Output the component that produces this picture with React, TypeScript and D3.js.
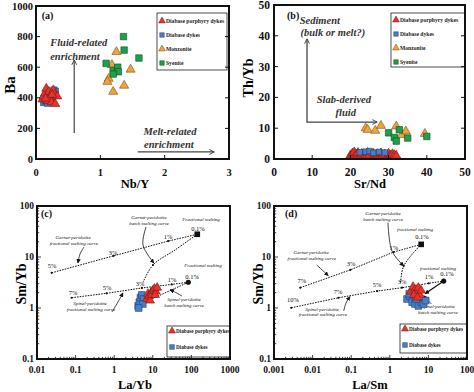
import React from 'react';
import * as d3 from 'd3';

type Pt = [number, number];

// ---------- Panel (a): Ba vs Nb/Y ----------
const aXTicks = [0, 1, 2, 3];
const aYTicks = [0, 200, 400, 600, 800, 1000];
const aPorphyry: Pt[] = [[0.1, 390], [0.12, 410], [0.14, 430], [0.16, 460], [0.18, 380], [0.2, 440], [0.22, 400], [0.24, 370], [0.27, 450], [0.29, 420], [0.3, 360], [0.33, 410], [0.15, 395], [0.25, 420]];
const aDyke: Pt[] = [[0.12, 370], [0.15, 380], [0.2, 410], [0.28, 450], [0.3, 440], [0.25, 395], [0.18, 365]];
const aMonzonite: Pt[] = [[1.25, 700], [1.18, 615], [1.13, 525], [1.11, 505], [1.2, 440], [1.37, 480], [1.47, 585]];
const aSyenite: Pt[] = [[1.36, 800], [1.37, 712], [1.09, 625], [1.6, 660], [1.2, 580], [1.27, 600], [1.28, 570], [1.2, 555]];

// ---------- Panel (b): Th/Yb vs Sr/Nd ----------
const bXTicks = [0, 10, 20, 30, 40, 50];
const bYTicks = [0, 10, 20, 30, 40, 50];
const bPorphyry: Pt[] = [[20, 1.2], [20.5, 1.8], [21, 2.2], [21.5, 1.5], [22, 2], [22.5, 1.2], [23, 1.7], [24, 1.4], [24.5, 2], [25, 1.2], [26, 1.8], [26.5, 1.3], [27, 1.6], [28, 1.9], [28.5, 1.2], [29, 1.5], [30, 1.8], [30.5, 1.2], [31, 1.6], [31.5, 1.3], [32, 1.1]];
const bDyke: Pt[] = [[22.5, 2.2], [24, 2.4], [25, 2.6], [26, 2], [27.5, 2.3], [29, 2.1]];
const bMonzonite: Pt[] = [[24, 10], [24.5, 9.5], [26.5, 9.2], [28, 10.8], [32, 10.6], [33.5, 7.8], [34.5, 9], [39.5, 8.2]];
const bSyenite: Pt[] = [[30, 8.5], [31.5, 7], [32, 5.8], [32.8, 9.5], [35, 6.8], [40, 7.3]];

// ---------- Panel (c): Sm/Yb vs La/Yb ----------
const cXTicks = [0.01, 0.1, 1, 10, 100, 1000];
const cYTicks = [0.1, 1, 10, 100];
const cPorphyry: Pt[] = [[7, 1.5], [7.5, 1.9], [8, 1.7], [8.5, 1.4], [9, 2.0], [9.5, 1.8], [10, 2.2], [11, 2.4], [12, 2.1], [13, 2.5], [11.5, 1.8]];
const cDyke: Pt[] = [[4.2, 1.1], [4.5, 1.3], [4.8, 1.6], [5.2, 1.8], [5.8, 1.5], [5.5, 1.2], [4.3, 1.0]];
const cGarnetFrac: Pt[] = [[0.024, 4.9], [0.95, 10.5], [25, 20.5], [142, 27.9]];
const cSpinelFrac: Pt[] = [[0.079, 1.59], [0.64, 1.94], [5.2, 2.47], [31, 2.9], [83, 3.2]];
const cGarnetBatch: Pt[] = [[142, 27.9], [37.6, 13.7], [10.1, 6.97], [5.6, 3.2]];
const cSpinelBatch: Pt[] = [[83, 3.2], [12.6, 1.66]];

// ---------- Panel (d): Sm/Yb vs La/Sm ----------
const dXTicks = [0.001, 0.01, 0.1, 1, 10, 100];
const dYTicks = [0.1, 1, 10, 100];
const dPorphyry: Pt[] = [[3.5, 2.1], [4, 2.6], [4.5, 2.3], [5, 2.0], [5.5, 2.5], [6, 1.8], [4.2, 1.8], [6.5, 2.2], [5.2, 1.6]];
const dDyke: Pt[] = [[2.8, 1.5], [3.3, 1.7], [3.8, 1.3], [4.5, 1.2], [5.5, 1.1], [6.5, 1.3], [7.5, 1.2], [3.2, 1.9], [4.8, 1.5], [8.5, 1.4]];
const dGarnetFrac: Pt[] = [[0.0048, 2.5], [0.095, 5.6], [1.26, 12.5], [6.5, 17.7]];
const dSpinelFrac: Pt[] = [[0.0028, 1.01], [0.047, 1.59], [0.47, 2.15], [2.07, 2.5], [10.2, 3.05], [24.9, 3.38]];
const dGarnetBatch: Pt[] = [[6.5, 17.7], [2.3, 6.7], [1.9, 3.1]];
const dSpinelBatch: Pt[] = [[24.9, 3.38], [8.2, 1.9]];

const FONT = "'Liberation Serif', 'Times New Roman', serif";
const STYLE: Record<string, { fill: string; stroke: string; tri: boolean }> = {
  porphyry: { fill: '#e5332f', stroke: '#7a1512', tri: true },
  dyke: { fill: '#4a7fc6', stroke: '#1f3f78', tri: false },
  monz: { fill: '#f2a23a', stroke: '#7a4d10', tri: true },
  syen: { fill: '#1f9e4b', stroke: '#0b5224', tri: false },
};
const LABELS: Record<string, string> = {
  porphyry: 'Diabase porphyry dykes',
  dyke: 'Diabase dykes',
  monz: 'Monzonite',
  syen: 'Syenite',
};

function symPath(tri: boolean, size: number) {
  return d3.symbol().type(tri ? d3.symbolTriangle : d3.symbolSquare).size(size)() as string;
}

function Marks({ pts, kind, xs, ys, size }: any) {
  const st = STYLE[kind];
  const p = symPath(st.tri, size ?? (st.tri ? 36 : 42));
  return (
    <g>
      {pts.map((d: Pt, i: number) => (
        <path key={i} d={p} transform={`translate(${xs(d[0])},${ys(d[1])})`} fill={st.fill} stroke={st.stroke} strokeWidth={0.6} />
      ))}
    </g>
  );
}

function Legend({ x, y, w, h, kinds, rows, fs, sym }: any) {
  return (
    <g>
      <rect x={x} y={y} width={w} height={h} fill="#fff" stroke="#222" strokeWidth={0.8} />
      {kinds.map((k: string, i: number) => {
        const st = STYLE[k];
        return (
          <g key={k}>
            <path d={symPath(st.tri, sym)} transform={`translate(${x + 5},${rows[i]})`} fill={st.fill} stroke={st.stroke} strokeWidth={0.5} />
            <text x={x + 9} y={rows[i]} dominantBaseline="central" fontSize={fs} fontFamily={FONT} fontWeight="bold" fill="#222">{LABELS[k]}</text>
          </g>
        );
      })}
    </g>
  );
}

function Axes({ xs, ys, xTicks, yTicks, log, fs, xLabY, yLabX, fmt }: any) {
  const [x0, x1] = xs.range();
  const [y0, y1] = ys.range();
  const items: any[] = [];
  if (log) {
    const xt = xs.ticks();
    xt.forEach((v: number, i: number) => {
      const major = Math.abs(Math.log10(v) - Math.round(Math.log10(v))) < 1e-6;
      const L = major ? 4 : 2.2;
      items.push(<line key={'xt' + i} x1={xs(v)} x2={xs(v)} y1={y0} y2={y0 - L} stroke="#111" strokeWidth={0.8} />);
    });
    const yt = ys.ticks();
    yt.forEach((v: number, i: number) => {
      const major = Math.abs(Math.log10(v) - Math.round(Math.log10(v))) < 1e-6;
      const L = major ? 4 : 2.2;
      items.push(<line key={'yt' + i} x1={x0} x2={x0 + L} y1={ys(v)} y2={ys(v)} stroke="#111" strokeWidth={0.8} />);
    });
  } else {
    xTicks.forEach((v: number, i: number) => {
      items.push(<line key={'xt' + i} x1={xs(v)} x2={xs(v)} y1={y0} y2={y0 - 4} stroke="#111" strokeWidth={1} />);
    });
    yTicks.forEach((v: number, i: number) => {
      items.push(<line key={'yl' + i} x1={x0} x2={x0 + 4} y1={ys(v)} y2={ys(v)} stroke="#111" strokeWidth={1} />);
      items.push(<line key={'yr' + i} x1={x1} x2={x1 - 4} y1={ys(v)} y2={ys(v)} stroke="#111" strokeWidth={1} />);
    });
  }
  return (
    <g>
      {items}
      {xTicks.map((v: number, i: number) => (
        <text key={'xl' + i} x={xs(v)} y={xLabY} textAnchor="middle" fontSize={fs} fontFamily={FONT} fontWeight="bold" fill="#111">{fmt ? fmt(v) : String(v)}</text>
      ))}
      {yTicks.map((v: number, i: number) => (
        <text key={'ylb' + i} x={yLabX} y={ys(v)} textAnchor="end" dominantBaseline="central" fontSize={fs} fontFamily={FONT} fontWeight="bold" fill="#111">{String(v)}</text>
      ))}
      <rect x={x0} y={y1} width={x1 - x0} height={y0 - y1} fill="none" stroke="#111" strokeWidth={2} />
    </g>
  );
}

function Notes({ notes, xs, ys }: any) {
  return (
    <g>
      {notes.map((n: any, i: number) => (
        <text key={i} x={xs(n.x)} y={ys(n.y)} textAnchor={n.a ?? 'middle'} dominantBaseline="central"
          fontSize={n.s} fontFamily={FONT} fontStyle={n.it ? 'italic' : 'normal'} fontWeight={n.b ? 'bold' : 'normal'} fill={n.c ?? '#111'}>{n.t}</text>
      ))}
    </g>
  );
}

function Curve({ pts, xs, ys, dash, width, smooth, marker, color }: any) {
  const line = d3.line<Pt>().x((d) => xs(d[0])).y((d) => ys(d[1])).curve(smooth ? d3.curveCatmullRom : d3.curveLinear);
  return <path d={line(pts) as string} fill="none" stroke={color ?? '#111'} strokeWidth={width ?? 1} strokeDasharray={dash} markerEnd={marker} />;
}

function Dots({ pts, xs, ys, r }: any) {
  return <g>{pts.map((d: Pt, i: number) => <circle key={i} cx={xs(d[0])} cy={ys(d[1])} r={r ?? 1.1} fill="#111" />)}</g>;
}

// annotation lists (positions in data units)
const cNotes = [
  { t: '(c)', x: 0.0127, y: 70, s: 10, b: true, a: 'start' },
  { t: 'Garnet-peridotite', x: 0.086, y: 23.6, s: 5, it: true },
  { t: 'fractional melting curve', x: 0.09, y: 18.0, s: 5, it: true },
  { t: '5%', x: 0.0245, y: 6.67, s: 6.5 },
  { t: '3%', x: 0.93, y: 12.5, s: 6.5 },
  { t: '1%', x: 24.8, y: 25.8, s: 6.5 },
  { t: 'Garnet-peridotite', x: 7.97, y: 58.2, s: 5, it: true },
  { t: 'batch melting curve', x: 7.97, y: 44.4, s: 5, it: true },
  { t: 'Fractional melting', x: 177, y: 55.6, s: 5, it: true },
  { t: '0.1%', x: 148, y: 37, s: 6.5 },
  { t: 'Fractional melting', x: 200, y: 6.67, s: 5, it: true },
  { t: '0.1%', x: 104, y: 4.24, s: 6.5 },
  { t: '7%', x: 0.086, y: 1.97, s: 6.5 },
  { t: '5%', x: 0.65, y: 2.47, s: 6.5 },
  { t: '3%', x: 4.66, y: 2.96, s: 6.5 },
  { t: '1%', x: 31.4, y: 3.7, s: 6.5 },
  { t: 'Spinel-peridotite', x: 0.236, y: 1.2, s: 5, it: true },
  { t: 'fractional melting curve', x: 0.25, y: 0.915, s: 5, it: true },
  { t: 'Spinel-peridotite', x: 64.3, y: 1.44, s: 5, it: true },
  { t: 'batch melting curve', x: 64.3, y: 1.1, s: 5, it: true },
];
const cArrows: Pt[][] = [
  [[0.165, 15.7], [0.13, 11.4], [0.115, 7.6]],
  [[6.67, 38.7], [5.57, 17.2], [10.7, 7.6]],
  [[0.877, 0.835], [1.25, 1.31], [1.69, 1.97]],
  [[57, 1.72], [40, 2.0], [27.9, 2.3]],
];

const dNotes = [
  { t: '(d)', x: 0.00193, y: 70, s: 10, b: true, a: 'start' },
  { t: 'Garnet-peridotite', x: 0.667, y: 72.9, s: 5, it: true },
  { t: 'batch melting curve', x: 0.667, y: 55.6, s: 5, it: true },
  { t: 'fractional melting', x: 4.5, y: 35.4, s: 5, it: true },
  { t: '0.1%', x: 6.82, y: 25.8, s: 6.5 },
  { t: 'Garnet-peridotite', x: 0.0091, y: 12.5, s: 5, it: true },
  { t: 'fractional melting curve', x: 0.0095, y: 9.5, s: 5, it: true },
  { t: '7%', x: 0.0053, y: 3.54, s: 6.5 },
  { t: '3%', x: 0.099, y: 7.6, s: 6.5 },
  { t: '1%', x: 1.28, y: 15.7, s: 6.5 },
  { t: 'fractional melting', x: 17.7, y: 6.08, s: 5, it: true },
  { t: '0.1%', x: 30.3, y: 4.85, s: 6.5 },
  { t: '10%', x: 0.0031, y: 1.5, s: 6.5 },
  { t: '7%', x: 0.0455, y: 2.15, s: 6.5 },
  { t: '5%', x: 0.466, y: 2.83, s: 6.5 },
  { t: '3%', x: 2.07, y: 3.24, s: 6.5 },
  { t: '1%', x: 10.4, y: 4.06, s: 6.5 },
  { t: 'Spinel-peridotite', x: 0.0175, y: 0.955, s: 5, it: true },
  { t: 'fractional melting curve', x: 0.0185, y: 0.73, s: 5, it: true },
  { t: 'Spinel-peridotite', x: 17.7, y: 1.09, s: 5, it: true },
  { t: 'batch melting curve', x: 17.7, y: 0.8, s: 5, it: true },
];
const dArrows: Pt[][] = [
  [[0.897, 47.1], [1.14, 13.1], [2.29, 6.67]],
  [[0.0128, 6.96], [0.018, 5.5], [0.0255, 4.3]],
  [[0.064, 0.873], [0.0733, 1.25], [0.093, 1.68]],
  [[12, 1.2], [9, 1.5], [7.6, 1.75]],
];

const aNotes = [
  { t: '(a)', x: 0.09, y: 935, s: 10, b: true, a: 'start' },
  { t: 'Fluid-related', x: 0.22, y: 760, s: 10.5, b: true, it: true, a: 'start', c: '#333' },
  { t: 'enrichment', x: 0.22, y: 672, s: 10.5, b: true, it: true, a: 'start', c: '#333' },
  { t: 'Melt-related', x: 1.67, y: 182, s: 10.5, b: true, it: true, a: 'start', c: '#333' },
  { t: 'enrichment', x: 1.68, y: 97, s: 10.5, b: true, it: true, a: 'start', c: '#333' },
];
const aArrows: Pt[][] = [
  [[0.594, 170], [0.594, 647]],
  [[1.58, 46], [2.77, 46]],
];

const bNotes = [
  { t: '(b)', x: 3.4, y: 46.6, s: 10, b: true, a: 'start' },
  { t: 'Sediment', x: 12, y: 45, s: 10.5, b: true, it: true, c: '#333' },
  { t: '(bulk or melt?)', x: 15.4, y: 41, s: 10.5, b: true, it: true, c: '#333' },
  { t: 'Slab-derived', x: 18.3, y: 19.2, s: 10.5, b: true, it: true, c: '#333' },
  { t: 'fluid', x: 18.8, y: 15, s: 10.5, b: true, it: true, c: '#333' },
];
const bArrow: Pt[] = [[8.64, 39], [8.64, 12], [27, 12]];

export default function App() {
  const axA = d3.scaleLinear().domain([0, 3]).range([36, 229]);
  const ayA = d3.scaleLinear().domain([0, 1000]).range([159, 6]);
  const axB = d3.scaleLinear().domain([0, 50]).range([274, 465]);
  const ayB = d3.scaleLinear().domain([0, 50]).range([159, 5]);
  const axC = d3.scaleLog().domain([0.01, 1000]).range([37, 230]);
  const ayC = d3.scaleLog().domain([0.1, 100]).range([359, 206]);
  const axD = d3.scaleLog().domain([0.001, 100]).range([274, 467]);
  const ayD = d3.scaleLog().domain([0.1, 100]).range([359, 206]);

  const lineA = d3.line<Pt>().x((d) => axA(d[0])).y((d) => ayA(d[1]));
  const lineB = d3.line<Pt>().x((d) => axB(d[0])).y((d) => ayB(d[1]));
  const endC = cGarnetFrac[cGarnetFrac.length - 1];
  const endCs = cSpinelFrac[cSpinelFrac.length - 1];
  const endD = dGarnetFrac[dGarnetFrac.length - 1];
  const endDs = dSpinelFrac[dSpinelFrac.length - 1];
  const dash = '1.6,1.1';

  return (
    <svg width={474} height={392} style={{ position: 'absolute', left: 0, top: 0, background: '#fff' }} fontFamily={FONT}>
      <defs>
        <marker id="chev" viewBox="0 0 10 10" refX="9" refY="5" markerWidth="6" markerHeight="6" markerUnits="userSpaceOnUse" orient="auto-start-reverse">
          <path d="M1,1 L9,5 L1,9" fill="none" stroke="#444" strokeWidth="1.6" />
        </marker>
        <marker id="ah" viewBox="0 0 10 10" refX="9" refY="5" markerWidth="4.5" markerHeight="4.5" markerUnits="userSpaceOnUse" orient="auto">
          <path d="M0,0 L10,5 L0,10 z" fill="#111" />
        </marker>
      </defs>
      <rect x={0} y={0} width={474} height={392} fill="#fff" />

      {/* Panel a */}
      <g>
        {aArrows.map((p, i) => <path key={i} d={lineA(p) as string} stroke="#444" strokeWidth={1.2} fill="none" markerEnd="url(#chev)" />)}
        <Notes notes={aNotes} xs={axA} ys={ayA} />
        <Marks pts={aDyke} kind="dyke" xs={axA} ys={ayA} />
        <Marks pts={aPorphyry} kind="porphyry" xs={axA} ys={ayA} />
        <Marks pts={aMonzonite} kind="monz" xs={axA} ys={ayA} />
        <Marks pts={aSyenite} kind="syen" xs={axA} ys={ayA} />
        <Legend x={157} y={13} w={70} h={57} kinds={['porphyry', 'dyke', 'monz', 'syen']} rows={[21, 35, 49, 63]} fs={5.6} sym={20} />
        <Axes xs={axA} ys={ayA} xTicks={aXTicks} yTicks={aYTicks} fs={10.5} xLabY={176} yLabX={33} />
        <text x={135} y={188} textAnchor="middle" fontSize={12.5} fontWeight="bold" fontFamily={FONT}>Nb/Y</text>
        <text transform="translate(15,85) rotate(-90)" textAnchor="middle" fontSize={15} fontWeight="bold" fontFamily={FONT}>Ba</text>
      </g>

      {/* Panel b */}
      <g>
        <path d={lineB(bArrow) as string} stroke="#444" strokeWidth={1.3} fill="none" markerStart="url(#chev)" markerEnd="url(#chev)" />
        <Notes notes={bNotes} xs={axB} ys={ayB} />
        <Marks pts={bPorphyry} kind="porphyry" xs={axB} ys={ayB} />
        <Marks pts={bDyke} kind="dyke" xs={axB} ys={ayB} size={30} />
        <Marks pts={bMonzonite} kind="monz" xs={axB} ys={ayB} />
        <Marks pts={bSyenite} kind="syen" xs={axB} ys={ayB} />
        <Legend x={391} y={13} w={74} h={54} kinds={['porphyry', 'dyke', 'monz', 'syen']} rows={[20, 34, 48, 62]} fs={5.6} sym={20} />
        <Axes xs={axB} ys={ayB} xTicks={bXTicks} yTicks={bYTicks} fs={11.5} xLabY={176} yLabX={270} />
        <text x={370} y={188} textAnchor="middle" fontSize={12.5} fontWeight="bold" fontFamily={FONT}>Sr/Nd</text>
        <text transform="translate(253,78) rotate(-90)" textAnchor="middle" fontSize={14} fontWeight="bold" fontFamily={FONT}>Th/Yb</text>
      </g>

      {/* Panel c */}
      <g>
        <Curve pts={cGarnetFrac} xs={axC} ys={ayC} dash={dash} />
        <Curve pts={cSpinelFrac} xs={axC} ys={ayC} dash={dash} />
        <Curve pts={cGarnetBatch} xs={axC} ys={ayC} dash={dash} smooth />
        <Curve pts={cSpinelBatch} xs={axC} ys={ayC} dash={dash} />
        <Dots pts={cGarnetFrac.slice(0, -1)} xs={axC} ys={ayC} />
        <Dots pts={cSpinelFrac.slice(0, -1)} xs={axC} ys={ayC} />
        <Dots pts={[cGarnetBatch[2]]} xs={axC} ys={ayC} />
        <rect x={axC(endC[0]) - 2.8} y={ayC(endC[1]) - 2.8} width={5.6} height={5.6} fill="#111" />
        <circle cx={axC(endCs[0])} cy={ayC(endCs[1])} r={2.6} fill="#111" />
        {cArrows.map((p, i) => <Curve key={i} pts={p} xs={axC} ys={ayC} smooth width={0.8} marker="url(#ah)" />)}
        <Notes notes={cNotes} xs={axC} ys={ayC} />
        <Marks pts={cDyke} kind="dyke" xs={axC} ys={ayC} size={46} />
        <Marks pts={cPorphyry} kind="porphyry" xs={axC} ys={ayC} size={34} />
        <Legend x={167} y={326} w={63} h={31} kinds={['porphyry', 'dyke']} rows={[331, 347]} fs={5.2} sym={22} />
        <Axes xs={axC} ys={ayC} xTicks={cXTicks} yTicks={cYTicks} log fs={9.5} xLabY={373} yLabX={34} />
        <text x={135} y={389} textAnchor="middle" fontSize={12.5} fontWeight="bold" fontFamily={FONT}>La/Yb</text>
        <text transform="translate(26,284) rotate(-90)" textAnchor="middle" fontSize={14} fontWeight="bold" fontFamily={FONT}>Sm/Yb</text>
      </g>

      {/* Panel d */}
      <g>
        <Curve pts={dGarnetFrac} xs={axD} ys={ayD} dash={dash} />
        <Curve pts={dSpinelFrac} xs={axD} ys={ayD} dash={dash} />
        <Curve pts={dGarnetBatch} xs={axD} ys={ayD} dash={dash} smooth />
        <Curve pts={dSpinelBatch} xs={axD} ys={ayD} width={1.3} marker="url(#ah)" />
        <Dots pts={dGarnetFrac.slice(0, -1)} xs={axD} ys={ayD} />
        <Dots pts={dSpinelFrac.slice(0, -1)} xs={axD} ys={ayD} />
        <Dots pts={[dGarnetBatch[1]]} xs={axD} ys={ayD} />
        <rect x={axD(endD[0]) - 2.8} y={ayD(endD[1]) - 2.8} width={5.6} height={5.6} fill="#111" />
        <circle cx={axD(endDs[0])} cy={ayD(endDs[1])} r={2.6} fill="#111" />
        {dArrows.map((p, i) => <Curve key={i} pts={p} xs={axD} ys={ayD} smooth width={0.8} marker="url(#ah)" />)}
        <Notes notes={dNotes} xs={axD} ys={ayD} />
        <Marks pts={dDyke} kind="dyke" xs={axD} ys={ayD} size={46} />
        <Marks pts={dPorphyry} kind="porphyry" xs={axD} ys={ayD} size={34} />
        <Legend x={400} y={324} w={67} h={29} kinds={['porphyry', 'dyke']} rows={[329, 345]} fs={5.2} sym={22} />
        <Axes xs={axD} ys={ayD} xTicks={dXTicks} yTicks={dYTicks} log fs={9.5} xLabY={373} yLabX={271} />
        <text x={370} y={389} textAnchor="middle" fontSize={12.5} fontWeight="bold" fontFamily={FONT}>La/Sm</text>
        <text transform="translate(263,284) rotate(-90)" textAnchor="middle" fontSize={14} fontWeight="bold" fontFamily={FONT}>Sm/Yb</text>
      </g>
    </svg>
  );
}
